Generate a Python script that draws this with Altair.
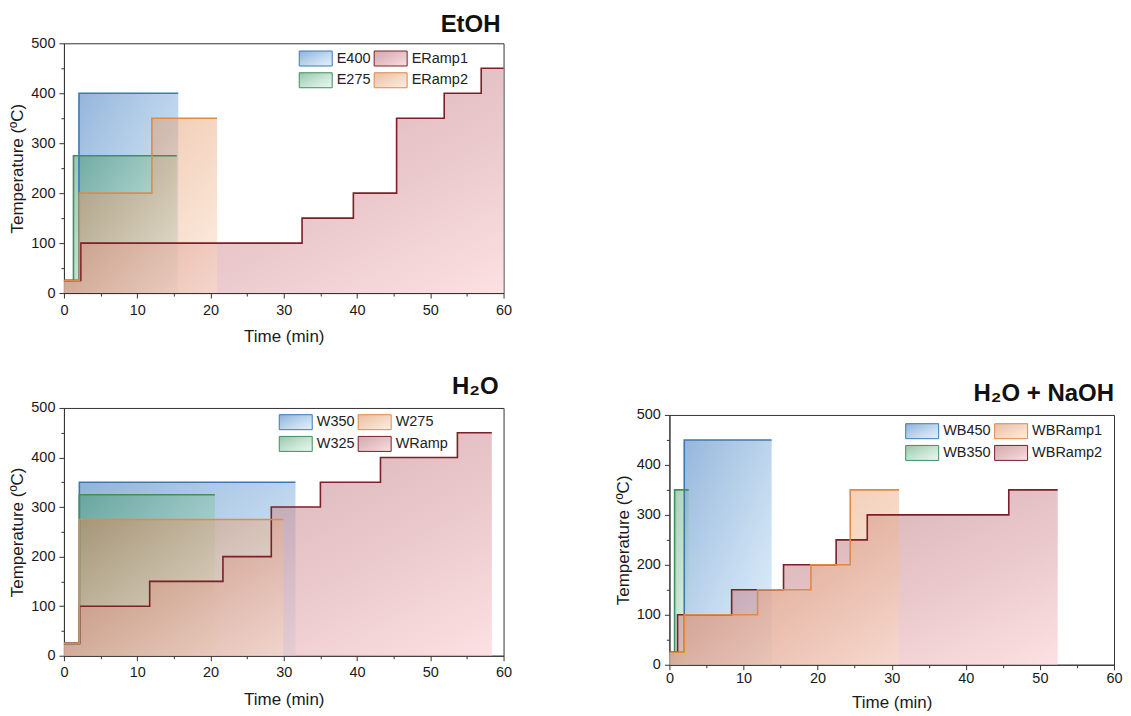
import altair as alt
import pandas as pd

FONT = "Liberation Sans"

# ---------------- EtOH ----------------
E400_t = [0, 2.05, 15.6]
E400_T = [25, 400, 400]
E275_t = [0, 1.3, 15.4]
E275_T = [25, 275, 275]
ERamp1_t = [0, 2.3, 32.5, 39.5, 45.4, 51.9, 56.95, 60]
ERamp1_T = [25, 100, 150, 200, 350, 400, 450, 450]
ERamp2_t = [0, 2.1, 12.0, 20.9]
ERamp2_T = [25, 200, 350, 350]

# ---------------- H2O ----------------
W350_t = [0, 2.1, 31.6]
W350_T = [25, 350, 350]
W325_t = [0, 2.1, 20.6]
W325_T = [25, 325, 325]
W275_t = [0, 2.1, 29.95]
W275_T = [25, 275, 275]
WRamp_t = [0, 2.14, 11.7, 21.7, 28.3, 35.0, 43.2, 53.7, 58.4]
WRamp_T = [25, 100, 150, 200, 300, 350, 400, 450, 450]

# ---------------- H2O + NaOH ----------------
WB450_t = [0, 2.0, 13.8]
WB450_T = [25, 450, 450]
WB350_t = [0, 0.7, 2.6]
WB350_T = [25, 350, 350]
WBRamp1_t = [0, 2.0, 11.9, 19.1, 24.4, 31.0]
WBRamp1_T = [25, 100, 150, 200, 350, 350]
WBRamp2_t = [0, 1.1, 8.4, 15.4, 22.5, 26.7, 45.8, 52.4]
WBRamp2_T = [25, 100, 150, 200, 250, 300, 350, 350]

# colour families: (gradient start, gradient end, line colour)
BLUE = ("rgba(60,120,188,0.58)", "rgba(190,225,248,0.45)", "#3b79b6")
GREEN = ("rgba(55,145,95,0.52)", "rgba(200,238,215,0.40)", "#3f8f5f")
ORANGE = ("rgba(215,125,70,0.50)", "rgba(252,222,198,0.50)", "#e08a45")
RED = ("rgba(165,90,100,0.50)", "rgba(252,208,212,0.65)", "#7c1f27")


def grad(fam):
    return ("{gradient: 'linear', x1: 0, y1: 0, x2: 1, y2: 1, stops: ["
            "{offset: 0, color: '" + fam[0] + "'}, "
            "{offset: 1, color: '" + fam[1] + "'}]}")


MAJOR = {"condition": {"test": "datum.value % 100 === 0", "value": 5}, "value": 3}
MAJOR_X = {"condition": {"test": "datum.value % 10 === 0", "value": 5}, "value": 3}


def panel(series, legend_order, title, width, height, lx, ly, title_offset,
          xlabel_pad, xtitle_pad, title_dx):
    rows = []
    for name, ts, Ts, fam in series:
        for t, T in zip(ts, Ts):
            rows.append({"series": name, "line": name, "t": t, "T": T})
    df = pd.DataFrame(rows)
    fams = {name: fam for name, _, _, fam in series}
    fill_scale = alt.Scale(domain=legend_order,
                           range=[alt.ExprRef(expr=grad(fams[n])) for n in legend_order])
    stroke_scale = alt.Scale(domain=legend_order,
                             range=[fams[n][2] for n in legend_order])
    x = alt.X("t:Q",
              scale=alt.Scale(domain=[0, 60], nice=False, zero=False),
              axis=alt.Axis(values=list(range(0, 61, 5)),
                            labelExpr="datum.value % 10 === 0 ? datum.label : ''",
                            tickSize=MAJOR_X, labelFlush=False, labelOverlap=False,
                            labelPadding=xlabel_pad, title="Time (min)",
                            titlePadding=xtitle_pad))
    y = alt.Y("T:Q", stack=None,
              scale=alt.Scale(domain=[0, 500], nice=False),
              axis=alt.Axis(values=list(range(0, 501, 50)),
                            labelExpr="datum.value % 100 === 0 ? datum.label : ''",
                            tickSize=MAJOR, labelOverlap=False, labelPadding=4,
                            title="Temperature (ºC)", titlePadding=4))
    legend = alt.Legend(title=None, orient="none", legendX=lx, legendY=ly,
                        columns=2,
                        symbolType="M-2.2,-1L2.2,-1L2.2,1L-2.2,1Z",
                        symbolSize=225, symbolStrokeColor="#cfcfcf",
                        symbolStrokeWidth=1, symbolOpacity=1,
                        labelFont=FONT, labelFontSize=14.5, labelColor="#222222",
                        labelOffset=13, columnPadding=1, rowPadding=2, padding=0)
    base = alt.Chart(df)
    area = base.mark_area(interpolate="step-after").encode(
        x=x, y=y, fill=alt.Fill("series:N", scale=fill_scale, legend=legend))
    line = base.mark_line(interpolate="step-after", strokeWidth=1.6).encode(
        x=x, y=y, stroke=alt.Stroke("line:N", scale=stroke_scale, legend=None))
    return alt.layer(area, line).properties(
        width=width, height=height,
        title=alt.TitleParams(title, anchor="end", frame="group", fontSize=24,
                              font=FONT, fontWeight="bold", color="#111111",
                              offset=title_offset, dx=title_dx))


# draw order: blue, green, ramp (red), orange on top
p1 = panel([("E400", E400_t, E400_T, BLUE),
            ("E275", E275_t, E275_T, GREEN),
            ("ERamp1", ERamp1_t, ERamp1_T, RED),
            ("ERamp2", ERamp2_t, ERamp2_T, ORANGE)],
           ["E400", "E275", "ERamp1", "ERamp2"],
           "EtOH", 440, 250, 244, 7, -2, 5, 12, -3)

p2 = panel([("W350", W350_t, W350_T, BLUE),
            ("W325", W325_t, W325_T, GREEN),
            ("WRamp", WRamp_t, WRamp_T, RED),
            ("W275", W275_t, W275_T, ORANGE)],
           ["W350", "W325", "W275", "WRamp"],
           "H₂O", 440, 248, 224, 6, 1, 5, 12, -5)

p3 = panel([("WB450", WB450_t, WB450_T, BLUE),
            ("WB350", WB350_t, WB350_T, GREEN),
            ("WBRamp2", WBRamp2_t, WBRamp2_T, RED),
            ("WBRamp1", WBRamp1_t, WBRamp1_T, ORANGE)],
           ["WB450", "WB350", "WBRamp1", "WBRamp2"],
           "H₂O + NaOH", 445, 250, 245, 8, 1, 2, 9, 0)

spacer = alt.Chart(pd.DataFrame({"a": [0]})).mark_point(opacity=0).encode(
    x=alt.value(0), y=alt.value(0)
).properties(width=10, height=328, view=alt.ViewBackground(strokeOpacity=0))


def indep(c):
    return c.resolve_scale(fill="independent", stroke="independent").resolve_legend(
        fill="independent", stroke="independent")


left = indep(alt.vconcat(p1, p2, spacing=29))
right = indep(alt.vconcat(spacer, p3, spacing=10))

chart = indep(alt.hconcat(left, right, spacing=101)).properties(
    padding={"left": 0, "top": 4, "right": 0, "bottom": 0}
).configure_view(
    stroke="#333333", strokeWidth=1
).configure_axis(
    labelFont=FONT, labelFontSize=14.5, labelColor="#1a1a1a",
    titleFont=FONT, titleFontSize=17, titleFontWeight="normal",
    titleColor="#1a1a1a", domainColor="#333333", tickColor="#333333",
    grid=False
)

chart.save("out.html", embed_options={"renderer": "svg", "actions": False})
